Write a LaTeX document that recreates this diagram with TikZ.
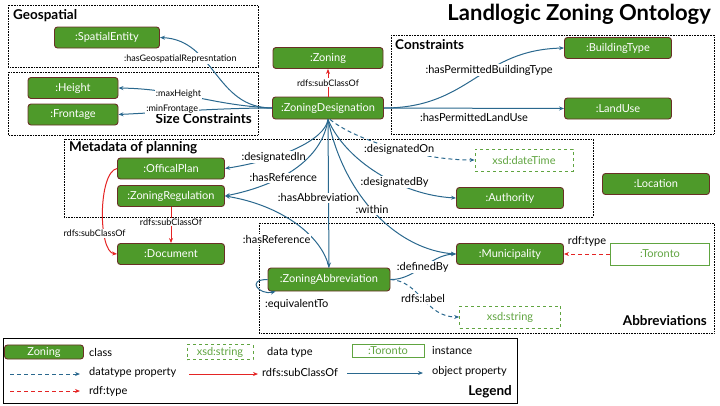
\documentclass[tikz,border=0pt]{standalone}
\usepackage{fontspec}
\setmainfont{Lato}
\usetikzlibrary{arrows.meta}
\definecolor{clsgreen}{RGB}{78,154,42}
\definecolor{clsedge}{RGB}{105,48,38}
\definecolor{objblue}{RGB}{42,104,142}
\definecolor{subred}{RGB}{228,36,36}
\definecolor{dtgreen}{RGB}{96,164,64}
\begin{document}
\begin{tikzpicture}[x=1pt,y=-1pt,
	cls/.style={draw=clsedge,fill=clsgreen,text=white,rounded corners=3pt,line width=0.9pt,minimum width=107pt,minimum height=21pt,inner sep=2pt,font=\fontsize{11}{12}\selectfont},
	dtype/.style={draw=dtgreen,dashed,text=dtgreen,line width=0.7pt,minimum width=98pt,minimum height=22pt,inner sep=2pt,font=\fontsize{11}{12}\selectfont},
	inst/.style={dtype,solid},
	region/.style={densely dotted,line width=0.6pt},
	obj/.style={draw=objblue,line width=1pt,-{Stealth[length=5pt,width=4pt]}},
	dprop/.style={obj,dash pattern=on 4pt off 3pt},
	sub/.style={draw=subred,line width=1pt,-{Stealth[length=5pt,width=4pt]}},
	rtype/.style={sub,dash pattern=on 4pt off 3pt},
	lbl/.style={fill=white,inner sep=1pt,font=\fontsize{11}{12}\selectfont},
	slbl/.style={lbl,font=\fontsize{9}{10}\selectfont},
	rtitle/.style={inner sep=1pt,font=\fontsize{13.5}{16}\selectfont\bfseries},
	lgtext/.style={anchor=west,inner sep=1pt,font=\fontsize{11}{12}\selectfont}]
	\useasboundingbox (0,0) rectangle (720,405);
	\draw[region] (8,5) rectangle (258,67);
	\draw[region] (8,72) rectangle (258,135);
	\draw[region] (391,35) rectangle (714,134);
	\draw[region] (64,139) rectangle (593,217);
	\draw[region] (259,223) rectangle (714,333);
	\draw[line width=0.9pt] (3,338) rectangle (517,403);
	\node[anchor=east,inner sep=1pt,font=\fontsize{22}{24}\selectfont\bfseries] (title) at (712,14) {Landlogic Zoning Ontology};
	\node[rtitle,anchor=west] (geotitle) at (12,16) {Geospatial};
	\node[rtitle,anchor=east] (sizetitle) at (253,119) {Size Constraints};
	\node[rtitle,anchor=west] (contitle) at (394,45) {Constraints};
	\node[rtitle,anchor=west] (metatitle) at (68,148) {Metadata of planning};
	\node[rtitle,anchor=east] (abbtitle) at (708,321) {Abbreviations};

	\node[cls,minimum width=105pt] (se) at (107,37.5) {:SpatialEntity};
	\node[cls,minimum width=90pt] (ht) at (73,88) {:Height};
	\node[cls,minimum width=90pt] (fr) at (73,114.5) {:Frontage};
	\node[cls,minimum width=110pt] (zn) at (328,58) {:Zoning};
	\node[cls,minimum width=111pt,minimum height=22pt] (zd) at (328,108) {:ZoningDesignation};
	\node[cls] (bt) at (618,48) {:BuildingType};
	\node[cls] (lu) at (618,108.5) {:LandUse};
	\node[cls] (op) at (171,168.5) {:OfficalPlan};
	\node[cls] (zr) at (171,196) {:ZoningRegulation};
	\node[cls] (doc) at (171,254) {:Document};
	\node[dtype] (dt) at (524,160) {xsd:dateTime};
	\node[cls] (au) at (510,198) {:Authority};
	\node[cls] (loc) at (656,184) {:Location};
	\node[cls] (mu) at (510,254) {:Municipality};
	\node[inst,minimum width=99pt] (tor) at (660,254) {:Toronto};
	\node[cls,minimum width=122pt,minimum height=23pt] (za) at (329,279.5) {:ZoningAbbreviation};
	\node[dtype,minimum width=101pt] (xs) at (510,317) {xsd:string};

	\draw[obj] (zd.west) .. controls (215,108) and (215,40) .. (se.east) node[slbl,pos=0.65,xshift=-22pt]{:hasGeospatialRepresntation};
	\draw[obj] (zd.west) .. controls (210,105) and (180,89) .. (ht.east) node[slbl,pos=0.62]{:maxHeight};
	\draw[obj] (zd.west) .. controls (220,108) and (170,112) .. (fr.east) node[slbl,pos=0.65,yshift=3pt]{:minFrontage};
	\draw[sub] (zd.north) -- (zn.south) node[slbl,midway]{rdfs:subClassOf};
	\draw[obj] (zd.east) .. controls (470,108) and (480,50) .. (bt.west) node[lbl,pos=0.6]{:hasPermittedBuildingType};
	\draw[obj] (zd.east) -- (lu.west) node[lbl,fill=none,midway,below=4pt]{:hasPermittedLandUse};
	\draw[obj] (zd.south) .. controls (325,140) and (280,160) .. (op.east) node[lbl,pos=0.68]{:designatedIn};
	\draw[obj] (zd.south) .. controls (322,160) and (280,185) .. (zr.east) node[lbl,pos=0.6,yshift=-2pt]{:hasReference};
	\draw[obj] (zd.south) -- (za.north) node[lbl,pos=0.53,xshift=-10pt]{:hasAbbreviation};
	\draw[obj] (zd.south) .. controls (345,200) and (400,250) .. (mu.west) node[lbl,pos=0.46]{:within};
	\draw[obj] (zd.south) .. controls (345,160) and (400,195) .. (au.west) node[lbl,pos=0.62]{:designatedBy};
	\draw[dprop] ([xshift=2pt]zd.south) .. controls (355,140) and (420,160) .. (dt.west) node[lbl,pos=0.55]{:designatedOn};
	\draw[obj] (za.north) .. controls (322,235) and (280,205) .. (zr.east) node[lbl,pos=0.3,anchor=east,xshift=-2pt]{:hasReference};
	\draw[obj] (za.east) .. controls (415,280) and (430,255) .. (mu.west) node[lbl,pos=0.5]{:definedBy};
	\draw[dprop] (za.east) .. controls (420,281) and (425,317) .. (xs.west) node[lbl,pos=0.5]{rdfs:label};
	\draw[obj] (za.west) .. controls +(-22,0) and +(-16,4) .. ([xshift=8pt]za.south west) node[lbl,fill=none,at end,anchor=north west,xshift=-12pt,yshift=-6pt]{:equivalentTo};
	\draw[sub] (op.west) .. controls (98,172) and (98,252) .. (doc.west) node[slbl,pos=0.68,xshift=-10pt]{rdfs:subClassOf};
	\draw[sub] (zr.south) -- (doc.north) node[slbl,midway,yshift=3pt]{rdfs:subClassOf};
	\draw[rtype] (tor.west) -- (mu.east) node[lbl,fill=none,midway,above=6pt]{rdf:type};

	\node[cls,minimum width=79pt,minimum height=14pt] (lgcls) at (44,352) {Zoning};
	\node[lgtext] (lgclst) at (88,352) {class};
	\node[dtype,minimum width=66pt,minimum height=15pt] (lgdt) at (220,352) {xsd:string};
	\node[lgtext] (lgdtt) at (266,352) {data type};
	\node[inst,minimum width=72pt,minimum height=13pt] (lginst) at (388,351) {:Toronto};
	\node[lgtext] (lginstt) at (431,351) {instance};
	\coordinate (lgdpa) at (10,374);
	\coordinate (lgdpb) at (80,374);
	\draw[dprop] (lgdpa) -- (lgdpb);
	\node[lgtext] (lgdpt) at (88,372) {datatype property};
	\coordinate (lgsca) at (189,374);
	\coordinate (lgscb) at (258,374);
	\draw[sub] (lgsca) -- (lgscb);
	\node[lgtext] (lgsct) at (261,372) {rdfs:subClassOf};
	\coordinate (lgopa) at (347,373);
	\coordinate (lgopb) at (423,373);
	\draw[obj] (lgopa) -- (lgopb);
	\node[lgtext] (lgopt) at (431,371) {object property};
	\coordinate (lgrta) at (10,391);
	\coordinate (lgrtb) at (80,391);
	\draw[rtype] (lgrta) -- (lgrtb);
	\node[lgtext] (lgrtt) at (88,391) {rdf:type};
	\node[rtitle,anchor=east] (lgtitle) at (513,392) {Legend};
\end{tikzpicture}
\end{document}
